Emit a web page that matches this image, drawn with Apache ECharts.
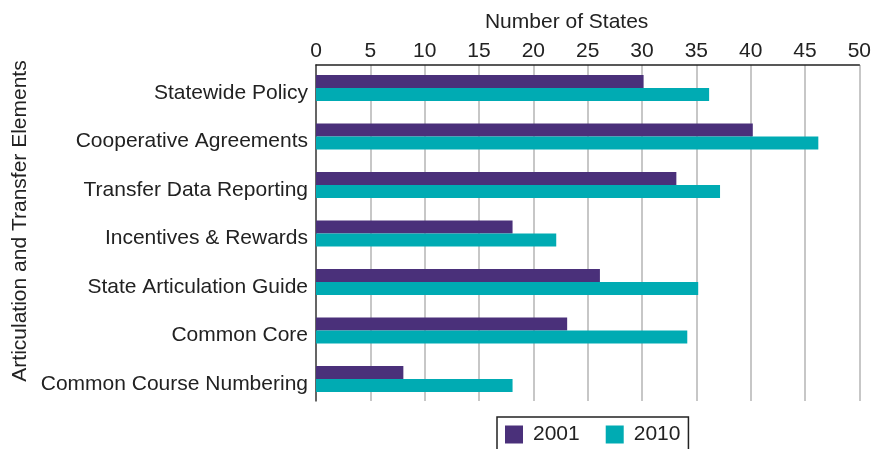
<!DOCTYPE html>
<html>
<head>
<meta charset="utf-8">
<script src="https://cdn.jsdelivr.net/npm/echarts@6/dist/echarts.min.js"></script>
<style>
  html, body { margin: 0; padding: 0; background: #fff; }
  #chart { width: 874px; height: 449px; }
</style>
</head>
<body>
<div id="chart"></div>
<script>
// elements, top to bottom
const categories = [
  "Statewide Policy",
  "Cooperative Agreements",
  "Transfer Data Reporting",
  "Incentives & Rewards",
  "State Articulation Guide",
  "Common Core",
  "Common Course Numbering"
];
const states2001 = [30, 40, 33, 18, 26, 23, 8];
const states2010 = [36, 46, 37, 22, 35, 34, 18];
const xTicks = { min: 0, max: 50, interval: 5 };

const font = "Liberation Sans, Arial, sans-serif";
const ink = "#222";

const chart = echarts.init(document.getElementById("chart"));

chart.setOption({
  animation: false,
  textStyle: { fontFamily: font },
  grid: [
    // frame: axis lines and gridlines
    { left: 316, right: 12, top: 65, bottom: 48 },
    // bars, one row per category tick
    { left: 316, right: 12, top: 88, bottom: 70 }
  ],
  xAxis: [
    {
      gridIndex: 0,
      type: "value",
      position: "top",
      min: xTicks.min,
      max: xTicks.max,
      interval: xTicks.interval,
      name: "Number of States",
      nameLocation: "middle",
      nameGap: 32,
      nameTextStyle: { fontSize: 21, color: ink, fontFamily: font, padding: [0, 0, 0, -42] },
      axisLine: { show: true, onZero: false, lineStyle: { color: ink, width: 1.5 } },
      axisTick: { show: false },
      axisLabel: { fontSize: 21, color: ink, margin: 3, fontFamily: font },
      splitLine: { show: true, lineStyle: { color: "#b4b4b4", width: 1.5 } }
    },
    {
      gridIndex: 1,
      type: "value",
      min: xTicks.min,
      max: xTicks.max,
      show: false
    }
  ],
  yAxis: [
    {
      gridIndex: 0,
      type: "value",
      min: 0,
      max: 1,
      axisLine: { show: true, onZero: false, lineStyle: { color: "#444", width: 1.5 } },
      axisTick: { show: false },
      axisLabel: { show: false },
      splitLine: { show: false }
    },
    {
      gridIndex: 1,
      type: "category",
      inverse: true,
      boundaryGap: false,
      data: categories,
      axisLine: { show: false },
      axisTick: { show: false },
      splitLine: { show: false },
      axisLabel: {
        fontSize: 21,
        color: ink,
        margin: 8,
        verticalAlign: "top",
        lineHeight: 10,
        fontFamily: font
      }
    }
  ],
  legend: {
    data: ["2001", "2010"],
    left: 497,
    top: 417,
    icon: "rect",
    itemWidth: 18,
    itemHeight: 18,
    itemGap: 26,
    padding: [7, 8, 12, 8],
    borderColor: ink,
    borderWidth: 1.5,
    textStyle: { fontSize: 21, color: ink, fontFamily: font, padding: [0, 0, 0, 5] }
  },
  graphic: [
    {
      type: "text",
      x: 20,
      y: 221,
      rotation: Math.PI / 2,
      style: {
        text: "Articulation and Transfer Elements",
        fontSize: 21,
        fontFamily: font,
        fill: ink,
        align: "center",
        verticalAlign: "middle"
      }
    }
  ],
  series: [
    {
      name: "2001",
      type: "bar",
      xAxisIndex: 1,
      yAxisIndex: 1,
      barWidth: 13,
      barGap: 0,
      itemStyle: { color: "#4a307a" },
      data: states2001
    },
    {
      name: "2010",
      type: "bar",
      xAxisIndex: 1,
      yAxisIndex: 1,
      barWidth: 13,
      barGap: 0,
      itemStyle: { color: "#00abb3" },
      data: states2010
    }
  ]
});
</script>
</body>
</html>
